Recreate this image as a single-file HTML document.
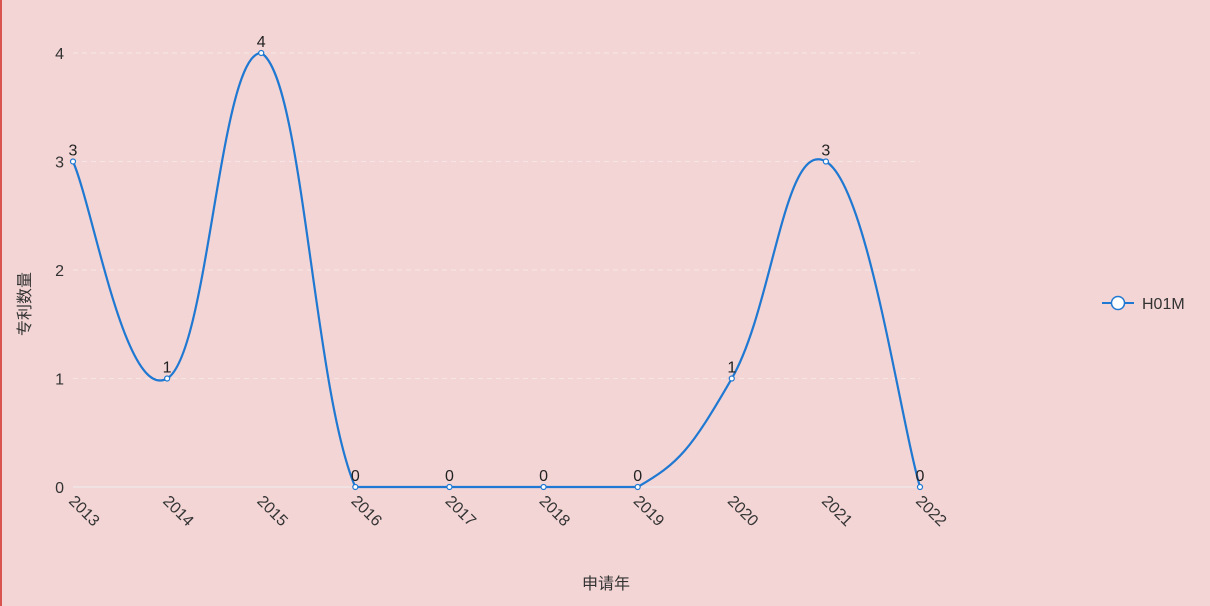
<!DOCTYPE html>
<html><head><meta charset="utf-8"><style>
html,body{margin:0;padding:0;background:#f3d5d5;}
#wrap{position:relative;width:1210px;height:606px;overflow:hidden;background:#f3d5d5;border-left:2px solid #d9534f;box-sizing:border-box;}
text{font-family:"Liberation Sans","Noto Sans CJK SC",sans-serif;}
</style></head><body>
<div id="wrap">
<svg id="chart" width="1208" height="606"></svg>
</div>
<script>
const categories=["2013","2014","2015","2016","2017","2018","2019","2020","2021","2022"];
const values=[3,1,4,0,0,0,0,1,3,0];
const yTicks=[0,1,2,3,4];
const svg=document.getElementById('chart');
const NS='http://www.w3.org/2000/svg';
const x0=71,x1=918,yb=487,yt=53,ymax=4;
function xs(i){return x0+(x1-x0)*i/(categories.length-1);}
function ys(v){return yb-(yb-yt)*v/ymax;}
function mk(t,a,p){const e=document.createElementNS(NS,t);for(const k in a)e.setAttribute(k,a[k]);(p||svg).appendChild(e);return e;}
yTicks.forEach(v=>{
 const l=mk('line',{x1:x0,x2:x1,y1:ys(v),y2:ys(v),stroke:v===0?'#eee':'#f5e6e6','stroke-width':1,'stroke-dasharray':v===0?'':'5,4'});
 
 
 const t=mk('text',{x:x0-9,y:ys(v)+6,'text-anchor':'end','font-size':16,fill:'#333'});
 t.textContent=v;
 
 
});
categories.forEach((c,i)=>{
 const t=mk('text',{x:xs(i)-5,y:yb+15,'font-size':16,fill:'#333',transform:'rotate(45 '+(xs(i)-5)+' '+(yb+15)+')'});
 t.textContent=c;
 
 
});
const pts=values.map((v,i)=>[xs(i),ys(v)]);
const yminP=ys(Math.max(...values)),ymaxP=ys(Math.min(...values));
const s=0.22;
let d='M'+pts[0][0]+','+pts[0][1];
for(let i=0;i<pts.length-1;i++){
 const p0=pts[Math.max(i-1,0)],p1=pts[i],p2=pts[i+1],p3=pts[Math.min(i+2,pts.length-1)];
 let c1=[p1[0]+(p2[0]-p0[0])*s,p1[1]+(p2[1]-p0[1])*s];
 let c2=[p2[0]-(p3[0]-p1[0])*s,p2[1]-(p3[1]-p1[1])*s];
 c1[1]=Math.min(Math.max(c1[1],yminP),ymaxP);c2[1]=Math.min(Math.max(c2[1],yminP),ymaxP);
 d+=' C'+c1[0]+','+c1[1]+' '+c2[0]+','+c2[1]+' '+p2[0]+','+p2[1];
}
const path=mk('path',{d:d,fill:'none',stroke:'#1f78d1','stroke-width':2.2});


pts.forEach((p,i)=>{
 const c=mk('circle',{cx:p[0],cy:p[1],r:2.5,fill:'#fff',stroke:'#1f78d1','stroke-width':1.2});
 
 
 const t=mk('text',{x:p[0],y:p[1]-6,'text-anchor':'middle','font-size':16,fill:'#222'});
 t.textContent=values[i];
 
 
});
const yt2=mk('text',{x:28,y:304,'text-anchor':'middle','font-size':16,fill:'#333',transform:'rotate(-90 28 304)'});
yt2.textContent='专利数量';


const xt=mk('text',{x:604,y:589,'text-anchor':'middle','font-size':16,fill:'#333'});
xt.textContent='申请年';


const g=mk('g',{});


mk('line',{x1:1100,x2:1132,y1:303,y2:303,stroke:'#1f78d1','stroke-width':2},g);
mk('circle',{cx:1116,cy:303,r:6.5,fill:'#fff',stroke:'#1f78d1','stroke-width':1.5},g);
const lt=mk('text',{x:1140,y:309,'font-size':16,fill:'#333'},g);
lt.textContent='H01M';
</script>
</body></html>
